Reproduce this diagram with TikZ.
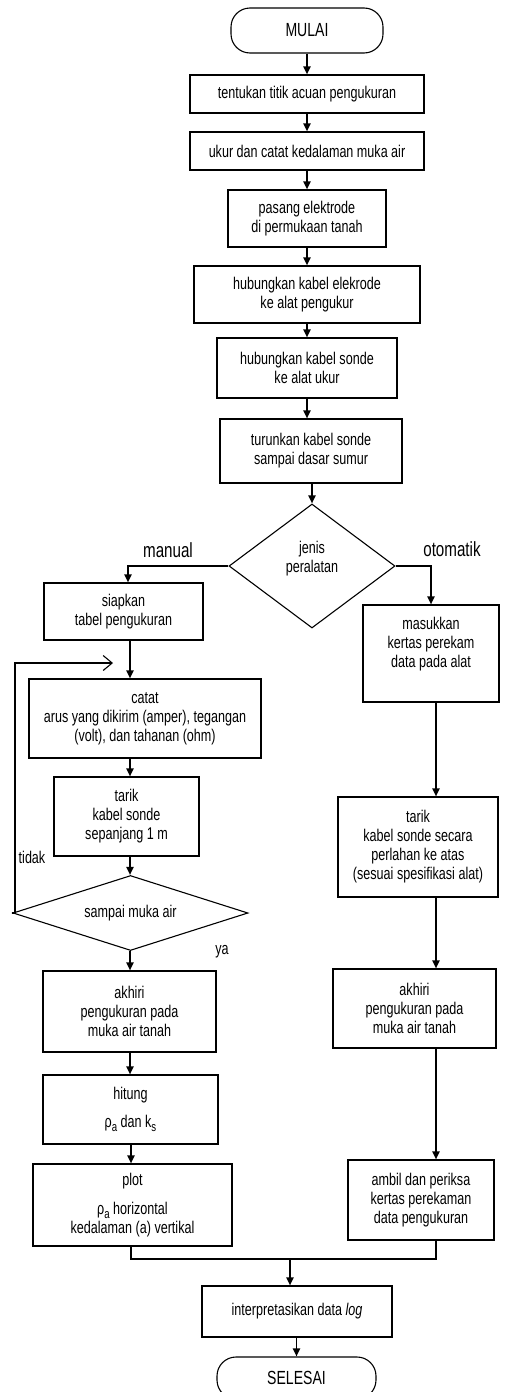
\documentclass[tikz,border=0pt]{standalone}
\usepackage{fontspec}
\setmainfont{Liberation Sans}[FakeStretch=0.74]
\usetikzlibrary{arrows.meta,shapes.geometric}
\newcommand{\sbs}[1]{\raisebox{-0.45ex}{\fontsize{13}{13}\selectfont #1}}
\begin{document}
\begin{tikzpicture}[x=1pt,y=-1pt,
  txt/.style={font=\fontsize{17}{19}\selectfont, align=center, inner sep=0pt},
  box/.style={txt, draw, line width=1.1pt},
  term/.style={box, rounded corners=19pt, font=\fontsize{19}{21}\selectfont},
  dia/.style={draw, diamond, line width=1.1pt, inner sep=0pt},
  lbl/.style={font=\fontsize{20.5}{22}\selectfont, inner sep=0pt},
  arr/.style={line width=1.8pt, -{Triangle[length=8pt,width=7pt]}},
  thinl/.style={line width=1.1pt}]
\useasboundingbox (0,0) rectangle (505,1392);
\clip (0,0) rectangle (505,1392);
% centre column
\node[term, minimum width=152pt, minimum height=45pt] (mulai) at (307,30.5) {MULAI};
\node[box, minimum width=234pt, minimum height=38pt] (b1) at (307,94) {tentukan titik acuan pengukuran};
\node[box, minimum width=234pt, minimum height=38pt] (b2) at (307,151) {ukur dan catat kedalaman muka air};
\node[box, minimum width=158pt, minimum height=57pt] (b3) at (307,218.5) {pasang elektrode\\di permukaan tanah};
\node[box, minimum width=226pt, minimum height=57pt] (b4) at (307,294.5) {hubungkan kabel elekrode\\ke alat pengukur};
\node[box, minimum width=180pt, minimum height=60pt] (b5) at (307,368) {hubungkan kabel sonde\\ke alat ukur};
\node[box, minimum width=182pt, minimum height=64pt] (b6) at (311,451) {turunkan kabel sonde\\sampai dasar sumur};
\node[dia, minimum width=166pt, minimum height=124pt] (d1) at (312,566) {};
\node[txt] (d1t) at (312,559) {jenis\\peralatan};
% left column
\node[box, minimum width=159pt, minimum height=57pt] (s1) at (123.5,611.5) {siapkan\\tabel pengukuran};
\node[box, minimum width=232pt, minimum height=79pt] (c1) at (145,718.5) {catat\\arus yang dikirim (amper), tegangan\\(volt), dan tahanan (ohm)};
\node[box, minimum width=145pt, minimum height=79pt] (t1) at (126.5,816.5) {tarik\\kabel sonde\\sepanjang 1 m};
\node[dia, minimum width=235pt, minimum height=75pt] (d2) at (130.5,913) {};
\node[txt] (d2t) at (130.5,913) {sampai muka air};
\node[box, minimum width=173pt, minimum height=81pt] (a1) at (129.5,1011.5) {akhiri\\pengukuran pada\\muka air tanah};
\node[box, minimum width=175pt, minimum height=69pt] (h1) at (130.5,1109.5) {hitung\\[9pt]ρ\sbs{a} dan k\sbs{s}};
\node[box, minimum width=199pt, minimum height=82pt] (p1) at (132.5,1205) {plot\\[10pt]ρ\sbs{a} horizontal\\kedalaman (a) vertikal};
% right column
\node[box, minimum width=136pt, minimum height=97pt] (m1) at (431,653.5) {};
\node[txt] (m1t) at (431,644) {masukkan\\kertas perekam\\data pada alat};
\node[box, minimum width=160pt, minimum height=100pt] (t2) at (418,847) {tarik\\kabel sonde secara\\perlahan ke atas\\(sesuai spesifikasi alat)};
\node[box, minimum width=163pt, minimum height=79pt] (a2) at (414.5,1008.5) {akhiri\\pengukuran pada\\muka air tanah};
\node[box, minimum width=146pt, minimum height=80pt] (am) at (421,1200) {ambil dan periksa\\kertas perekaman\\data pengukuran};
% bottom
\node[box, minimum width=190pt, minimum height=51pt] (ip) at (297,1311.5) {interpretasikan data \textit{log}};
\node[term, minimum width=159pt, minimum height=42pt] (se) at (296.5,1378) {SELESAI};
% labels
\node[lbl] (lman) at (168,550) {manual};
\node[lbl] (loto) at (452,549) {otomatik};
\node[txt] (ltid) at (32,857) {tidak};
\node[txt] (lya) at (222,952) {ya};
% helper coordinates
\coordinate (colLs) at (128,0);
\coordinate (colL) at (130,0);
\coordinate (pL) at (131,0);
\coordinate (colR) at (436,0);
\coordinate (loopc) at (15,663);
\coordinate (looptip) at (113,663);
\coordinate (mj) at (290,1259);
% connectors
\draw[arr] (mulai.south) -- (mulai.south |- b1.north);
\draw[arr] (b1.south) -- (b1.south |- b2.north);
\draw[arr] (b2.south) -- (b2.south |- b3.north);
\draw[arr] (b3.south) -- (b3.south |- b4.north);
\draw[arr] (b4.south) -- (b4.south |- b5.north);
\draw[arr] (b5.south) -- (b5.south |- b6.north);
\draw[arr] (b6.south -| d1.north) -- (d1.north);
\draw[arr] (d1.west) -| (s1.north -| colLs);
\draw[arr] (d1.east) -| (m1.north);
\draw[arr] (s1.south -| colL) -- (c1.north -| colL);
\draw[arr] (c1.south -| colL) -- (t1.north -| colL);
\draw[arr] (t1.south -| colL) -- (d2.north -| colL);
\draw[arr] (d2.south -| colL) -- (a1.north -| colL);
\draw[arr] (a1.south -| colL) -- (h1.north -| colL);
\draw[arr] (h1.south -| pL) -- (p1.north -| pL);
\draw[thinl, -{Straight Barb[length=9pt,width=15pt]}] (d2.west) -| (loopc) -- (looptip);
\draw[arr] (m1.south -| colR) -- (t2.north -| colR);
\draw[arr] (t2.south -| colR) -- (a2.north -| colR);
\draw[arr] (a2.south -| colR) -- (am.north -| colR);
\draw[thinl] (p1.south -| pL) |- (mj) -| (am.south -| colR);
\draw[arr] (mj) -- (ip.north -| mj);
\draw[arr] (ip.south -| se.north) -- (se.north);
\end{tikzpicture}
\end{document}
